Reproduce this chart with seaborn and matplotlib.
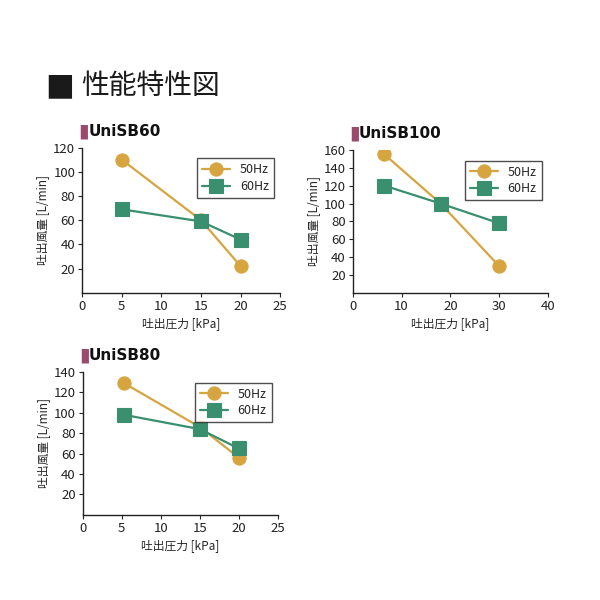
import pandas as pd
import matplotlib.pyplot as plt
import seaborn as sns

# Data (pressure kPa -> flow L/min)
sb60_pressure = [5, 15, 20]
sb60_50hz = [110, 60, 22]
sb60_60hz = [69, 59, 44]

sb100_pressure = [6.5, 18, 30]
sb100_50hz = [155, 100, 30]
sb100_60hz = [120, 100, 78]

sb80_pressure = [5.3, 15, 20]
sb80_50hz = [129, 86, 56]
sb80_60hz = [98, 84, 65]

sns.set_style('white')
plt.rcParams['font.family'] = ['Noto Sans CJK JP', 'DejaVu Sans']

gold = '#D6A540'
green = '#3A8F6E'
palette = {'50Hz': gold, '60Hz': green}
markers = {'50Hz': 'o', '60Hz': 's'}


def make_frame(pressure, f50, f60):
    df = pd.DataFrame({'pressure': pressure * 2,
                       'flow': f50 + f60,
                       'freq': ['50Hz'] * len(f50) + ['60Hz'] * len(f60)})
    return df


def draw_panel(ax, name, df, xmax, xstep, ymax):
    sns.lineplot(data=df, x='pressure', y='flow', hue='freq', style='freq',
                 markers=markers, dashes=False, palette=palette, ax=ax,
                 markersize=9.5, linewidth=1.6, markeredgewidth=0.8)
    for line in ax.lines:
        line.set_markeredgecolor(line.get_color())
    ax.set_xlim(0, xmax)
    ax.set_ylim(0, ymax)
    ax.set_xticks(range(0, xmax + 1, xstep))
    ax.set_yticks(range(20, ymax + 1, 20))
    ax.tick_params(labelsize=9.5, length=3, width=0.8, direction='out',
                   left=True, bottom=True, pad=2, labelcolor='#222222')
    for s in ['top', 'right']:
        ax.spines[s].set_visible(False)
    for s in ['left', 'bottom']:
        ax.spines[s].set_color('#222222')
        ax.spines[s].set_linewidth(1.0)
    ax.set_xlabel('吐出圧力 [kPa]', fontsize=8.5, labelpad=3)
    ax.set_ylabel('吐出風量 [L/min]', fontsize=8.5, labelpad=3)
    leg = ax.legend(loc='upper right', fontsize=9, frameon=True,
                    fancybox=False, edgecolor='#222222', handlelength=2.2,
                    borderpad=0.4, labelspacing=0.3, bbox_to_anchor=(1.0, 0.97))
    leg.get_frame().set_linewidth(1.0)
    # panel title with coloured bar
    ax.text(0.008, 1.05, '▮', transform=ax.transAxes, color='#9B4A6E',
            fontsize=14, ha='center', va='bottom', family=['DejaVu Sans'])
    ax.text(0.03, 1.06, name, transform=ax.transAxes, color='#111111',
            fontsize=11, fontweight='bold', ha='left', va='bottom',
            family=['DejaVu Sans'])


fig = plt.figure(figsize=(6, 6), dpi=100)

ax1 = fig.add_axes([0.137, 0.512, 0.33, 0.242])
draw_panel(ax1, 'UniSB60', make_frame(sb60_pressure, sb60_50hz, sb60_60hz), 25, 5, 120)

ax2 = fig.add_axes([0.588, 0.512, 0.325, 0.238])
draw_panel(ax2, 'UniSB100', make_frame(sb100_pressure, sb100_50hz, sb100_60hz), 40, 10, 160)

ax3 = fig.add_axes([0.138, 0.142, 0.325, 0.238])
draw_panel(ax3, 'UniSB80', make_frame(sb80_pressure, sb80_50hz, sb80_60hz), 25, 5, 140)

fig.text(0.075, 0.857, '■', fontsize=22, color='#1a1a1a', va='center',
         family=['DejaVu Sans'])
fig.text(0.135, 0.857, '性能特性図', fontsize=20, color='#1a1a1a', va='center')

fig.savefig('out.png', dpi=100, facecolor='white')
